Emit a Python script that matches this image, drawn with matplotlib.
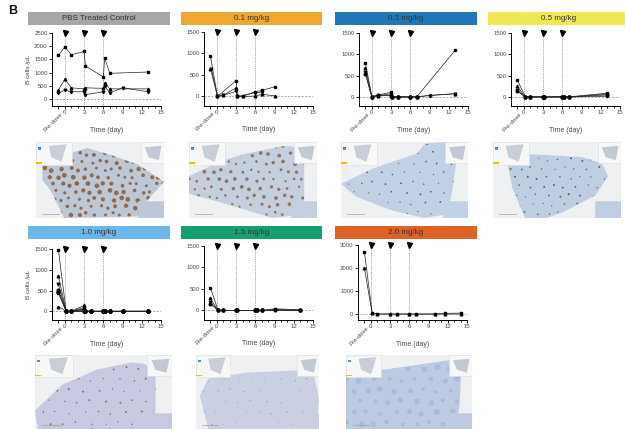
import numpy as np
import matplotlib
matplotlib.use("Agg")
import matplotlib.pyplot as plt
from matplotlib.patches import Rectangle, Polygon

# ---- data ----
pbs_t = [[-1, 0, 1, 3, 3.2, 6, 6.2, 7, 13],
         [-1, 0, 1, 3, 3.2, 6, 6.2, 7, 13],
         [-1, 0, 1, 3, 3.2, 6, 6.2, 7, 9, 13]]
pbs_v = [[1650, 1975, 1675, 1800, 1250, 830, 1550, 970, 1020],
         [330, 750, 420, 380, 420, 400, 620, 380, 380],
         [220, 330, 270, 270, 160, 270, 480, 230, 420, 270]]

d01_t = [[-1, 0.1, 3, 3.2, 4, 6, 7, 9],
         [-1, 0.1, 1, 3, 3.2, 4, 6, 7, 9],
         [-0.85, 0.1, 1, 3, 3.2, 6, 7]]
d01_v = [[940, 0, 370, 0, 0, 110, 140, 225],
         [650, 5, 30, 200, 0, 0, 10, 50, 15],
         [650, 0, 25, 120, 0, 90, 100]]

d03_t = [[-1, 0, 1, 3, 3.2, 4, 6, 7, 13],
         [-1, 0, 1, 3, 3.2, 4, 6, 7, 9, 13],
         [-1, 0, 1, 3, 3.2, 4, 6, 7, 9, 13],
         [-1, 0, 1, 3, 3.2, 4, 6, 7]]
d03_v = [[800, 10, 50, 110, 10, 5, 5, 5, 1100],
         [690, 5, 30, 80, 5, 5, 5, 5, 40, 80],
         [580, 0, 20, 50, 0, 0, 0, 0, 35, 75],
         [530, 0, 40, 30, 0, 0, 0, 0]]

d05_t = [[-1, 0.2, 1, 3, 3.2, 6, 6.2, 7, 13]] * 4
d05_v = [[400, 10, 5, 10, 5, 10, 5, 5, 90],
         [250, 5, 5, 5, 0, 5, 0, 0, 50],
         [170, 0, 0, 0, 0, 0, 0, 0, 20],
         [140, 0, 0, 0, 0, 0, 0, 0, 70]]

d10_t = [[-1, 0.2, 1, 3, 3.2, 4, 6, 6.2, 7, 9, 13]] * 7
d10_v = [[1480, 0, 0, 0, 0, 0, 0, 0, 0, 0, 0],
         [850, 0, 0, 140, 0, 0, 0, 0, 0, 0, 0],
         [650, 0, 0, 90, 0, 0, 0, 0, 0, 0, 0],
         [520, 0, 0, 60, 0, 0, 0, 0, 0, 0, 0],
         [475, 0, 0, 40, 0, 0, 0, 0, 0, 0, 0],
         [435, 0, 0, 20, 0, 0, 0, 0, 0, 0, 0],
         [115, 0, 0, 0, 0, 0, 0, 0, 0, 0, 0]]

d15_t = [[-1, 0.2, 1, 3, 3.2, 6, 6.2, 7, 9, 13]] * 4
d15_v = [[530, 0, 0, 0, 0, 0, 0, 0, 40, 15],
         [280, 0, 0, 0, 0, 0, 0, 0, 30, 10],
         [200, 0, 0, 0, 0, 0, 0, 0, 0, 0],
         [150, 0, 0, 0, 0, 0, 0, 0, 0, 0]]

d20_t = [[-1, 0.2, 1, 3, 4, 6, 7, 10, 11.5, 14]] * 2
d20_v = [[2700, 60, 0, 0, 0, 0, 0, 0, 30, 40],
         [1990, 30, 0, 0, 0, 0, 0, 0, 0, 0]]

dose_days = [0, 3, 6]
xtick_vals = [-1, 0, 3, 6, 9, 12, 15]
xtick_text = ["", "0", "3", "6", "9", "12", "15"]

titles = ["PBS Treated Control", "0.1 mg/kg", "0.3 mg/kg", "0.5 mg/kg",
          "1.0 mg/kg", "1.5 mg/kg", "2.0 mg/kg"]
title_colors = ["#a7a7a7", "#eea72f", "#1f78b6", "#f1e653",
                "#6cb7e8", "#14a06f", "#de6127"]

W, H = 625, 429
plt.rcParams["font.family"] = ["Liberation Sans", "DejaVu Sans"]
fig = plt.figure(figsize=(W / 100, H / 100), dpi=100)

TXT = "#4a4a4a"
MARKERS = ["s", "^", "v", "o", "D", "s", "^"]


def frac(l, t, r, b):
    return [l / W, 1 - b / H, (r - l) / W, (b - t) / H]


def title_bar(x0, y0, x1, y1, text, col):
    fig.add_artist(Rectangle((x0 / W, 1 - y1 / H), (x1 - x0) / W, (y1 - y0) / H,
                             transform=fig.transFigure, color=col, lw=0))
    fig.text((x0 + x1) / 2 / W, 1 - (y0 + y1) / 2 / H, text, ha="center",
             va="center", fontsize=5.8, color="#333333")


def panel(l, t, b, ytop, ybot, yticks, ts, vs, ylabel=False):
    r = l + 17 * 6.42
    ax = fig.add_axes(frac(l, t, r, b))
    ax.set_xlim(-2, 15)
    ax.set_ylim(ybot, ytop)
    ax.patch.set_alpha(0)
    for s in ["top", "right"]:
        ax.spines[s].set_visible(False)
    for s in ["left", "bottom"]:
        ax.spines[s].set_linewidth(0.7)
    ax.set_yticks(yticks)
    ax.set_yticklabels([str(v) for v in yticks])
    ax.set_xticks(xtick_vals)
    ax.set_xticklabels(xtick_text)
    ax.set_xticks([1, 2, 4, 5, 7, 8, 10, 11, 13, 14], minor=True)
    ax.tick_params(axis="both", which="major", labelsize=4.3, labelcolor=TXT,
                   length=2.2, width=0.6, pad=1)
    ax.tick_params(axis="x", which="minor", length=1.6, width=0.6)
    ax.annotate("Pre-dose", xy=(-1, 0), xycoords=("data", "axes fraction"),
                xytext=(1.5, -4), textcoords="offset points", rotation=45,
                ha="right", va="top", rotation_mode="anchor", fontsize=4.4,
                color=TXT)
    ax.set_xlabel("Time (day)", fontsize=5, color=TXT, labelpad=8)
    if ylabel:
        ax.set_ylabel("B cells /\u00b5L", fontsize=4.6, color=TXT, labelpad=2)
    ax.axhline(0, ls=(0, (3, 2)), color="#8a8a8a", lw=0.5, zorder=1)
    ax.vlines(dose_days, ybot, ytop, linestyles=(0, (1, 1.2)), colors="#888888",
              lw=0.6, zorder=1)
    ax.plot(dose_days, [ytop] * 3, "v", color="k", ms=3.6, clip_on=False,
            zorder=5)
    for i, (tt, vv) in enumerate(zip(ts, vs)):
        ax.plot(tt, vv, "-", color="#222222", lw=0.5, marker=MARKERS[i % 7],
                ms=1.9, mfc="k", mec="k", clip_on=False, zorder=3)
    return ax


# top row
title_bar(28, 12, 170, 25, titles[0], title_colors[0])
title_bar(181, 12, 322, 25, titles[1], title_colors[1])
title_bar(335, 12, 477, 25, titles[2], title_colors[2])
title_bar(488, 12, 630, 25, titles[3], title_colors[3])
panel(52, 33, 106, 2500, -270, [0, 500, 1000, 1500, 2000, 2500], pbs_t, pbs_v, True)
panel(204, 32, 105.5, 1500, -210, [0, 500, 1000, 1500], d01_t, d01_v)
panel(359, 33, 106, 1500, -210, [0, 500, 1000, 1500], d03_t, d03_v)
panel(511, 33, 106, 1500, -210, [0, 500, 1000, 1500], d05_t, d05_v)

# bottom row
title_bar(28, 226, 170, 238.5, titles[4], title_colors[4])
title_bar(181, 226, 322, 238.5, titles[5], title_colors[5])
title_bar(335, 226, 477, 238.5, titles[6], title_colors[6])
panel(52, 249, 320, 1500, -210, [0, 500, 1000, 1500], d10_t, d10_v, True)
panel(204, 246, 319.5, 1500, -210, [0, 500, 1000, 1500], d15_t, d15_v)
panel(358, 245, 320, 3000, -260, [0, 1000, 2000, 3000], d20_t, d20_v)

fig.text(8 / W, 1 - 11 / H, "B", fontsize=9, fontweight="bold", ha="left",
         va="center", color="#111111")


# ---- histology slides (schematic) ----
def lattice(wpx, hpx, sx, sy):
    pts = []
    for j, y in enumerate(np.arange(sy / 2, hpx, sy)):
        off = sx / 2 if j % 2 else 0
        for k, x in enumerate(np.arange(off, wpx, sx)):
            dx = 1.8 * np.sin(1.7 * k + 2.3 * j)
            dy = 1.5 * np.cos(2.1 * k - 1.3 * j)
            pts.append(((x + dx) / wpx, (y + dy) / hpx))
    return np.array(pts)


def slide(x0, y0, x1, y1, shape, tcol, dcol, sx, sy, dsize, dalpha=0.85):
    ax = fig.add_axes(frac(x0, y0, x1, y1))
    ax.set_xlim(0, 1)
    ax.set_ylim(0, 1)
    ax.axis("off")
    wpx, hpx = x1 - x0, y1 - y0
    ax.add_patch(Rectangle((0, 0), 1, 1, color="#eef0f2", lw=0))
    poly = Polygon(shape, closed=True, fc=tcol, ec="none")
    ax.add_patch(poly)
    if dsize > 0:
        p = lattice(wpx, hpx, sx, sy)
        sizes = dsize * (1 + 0.45 * np.sin(7.3 * p[:, 0] + 11.1 * p[:, 1]))
        sc = ax.scatter(p[:, 0], p[:, 1], s=sizes, c=dcol, lw=0, alpha=dalpha)
        sc.set_clip_path(poly)
    # viewer chrome: thumbnails and zoom inset
    ax.add_patch(Rectangle((0, 0.7), 0.28, 0.3, fc="#f7f7f7", ec="#dcdcdc", lw=0.4))
    ax.add_patch(Polygon([(0.1, 0.95), (0.24, 0.97), (0.2, 0.74), (0.12, 0.8)],
                         fc="#c9ced6", lw=0))
    ax.add_patch(Rectangle((0.0, 0.71), 0.045, 0.025, fc="#f2c200", lw=0))
    ax.add_patch(Rectangle((0.015, 0.9), 0.025, 0.035, fc="#4a90d0", lw=0))
    ax.add_patch(Rectangle((0.82, 0.72), 0.18, 0.28, fc="#f7f7f7", ec="#dcdcdc", lw=0.4))
    ax.add_patch(Polygon([(0.85, 0.93), (0.98, 0.95), (0.96, 0.76), (0.88, 0.8)],
                         fc="#c3c9d2", lw=0))
    ax.add_patch(Rectangle((0.8, 0.0), 0.2, 0.22, fc=tcol, ec="#d0d0d0", lw=0.4))
    ax.plot([0.05, 0.18], [0.05, 0.05], color="#a0a0a0", lw=0.5)


slide(36, 142, 164, 218,
      [(0.05, 0.74), (0.2, 0.82), (0.4, 0.92), (0.6, 0.82), (0.8, 0.7),
       (1.0, 0.48), (0.88, 0.25), (0.8, 0.02), (0.22, 0.0), (0.12, 0.35),
       (0.05, 0.5)],
      "#bcc8d6", "#8e5a36", 8.5, 7.5, 8.0)
slide(189, 142, 317, 218,
      [(0.0, 0.55), (0.25, 0.75), (0.45, 0.85), (0.75, 0.95), (0.9, 0.92),
       (0.9, 0.05), (0.65, 0.0), (0.3, 0.18), (0.0, 0.32)],
      "#c3cfdd", "#8f6347", 9.5, 8.5, 5.0)
slide(341, 142, 468, 218,
      [(0.0, 0.45), (0.25, 0.65), (0.6, 0.85), (0.66, 0.98), (0.85, 1.0),
       (0.92, 0.9), (0.88, 0.4), (0.84, 0.05), (0.65, 0.0), (0.4, 0.1),
       (0.12, 0.28)],
      "#c2d0e3", "#4d5060", 13, 10, 1.3)
slide(493, 142, 621, 218,
      [(0.1, 0.85), (0.4, 0.83), (0.7, 0.8), (0.85, 0.72), (0.9, 0.55),
       (0.8, 0.3), (0.55, 0.08), (0.42, 0.0), (0.25, 0.0), (0.15, 0.4)],
      "#bfcde0", "#4d5262", 11, 9, 1.5)
slide(35, 355, 172, 429,
      [(0.0, 0.25), (0.2, 0.6), (0.45, 0.8), (0.7, 0.9), (0.8, 0.88),
       (0.88, 0.75), (0.88, 0.25), (0.85, 0.0), (0.02, 0.0)],
      "#c6c9e0", "#7a5a40", 14, 11, 1.3)
slide(196, 355, 319, 429,
      [(0.03, 0.45), (0.1, 0.68), (0.4, 0.76), (0.95, 0.8), (1.0, 0.4),
       (0.98, 0.0), (0.1, 0.0)],
      "#c9d0e2", "#8a90a8", 14, 11, 0.6)
slide(346, 355, 472, 429,
      [(0.0, 0.72), (0.3, 0.8), (0.7, 0.9), (0.92, 0.96), (0.9, 0.3),
       (0.87, 0.0), (0.0, 0.0)],
      "#bccae2", "#a3b5d8", 14, 11, 12, 0.7)

fig.savefig("out.png", dpi=100)
